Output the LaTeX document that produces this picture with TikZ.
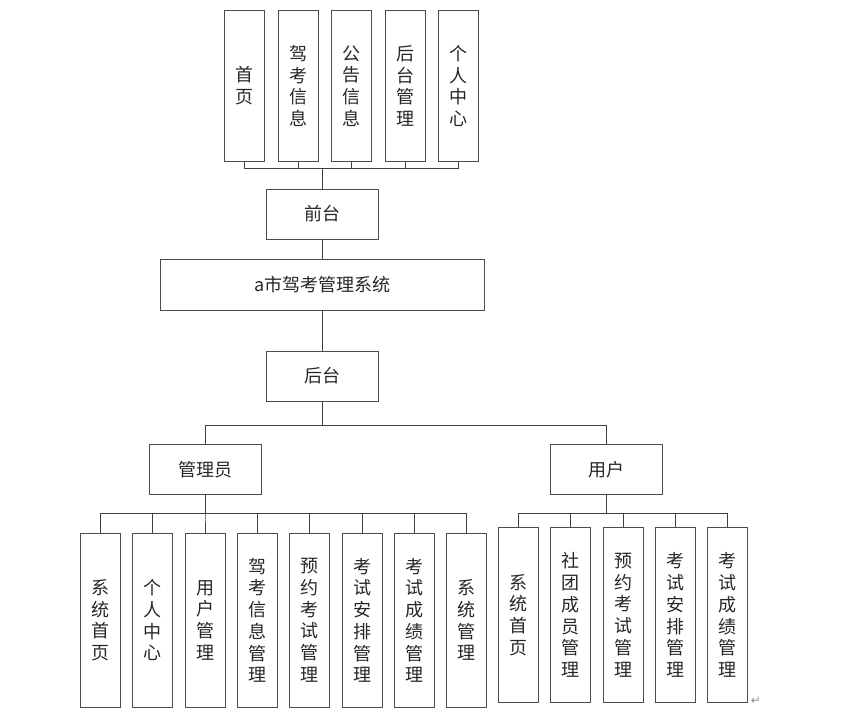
\documentclass[tikz,border=0pt]{standalone}
\usepackage{fontspec}
\newfontfamily\cjk{Noto Sans CJK SC}
\newfontfamily\symfont{DejaVu Sans}
\usepackage{tikz}

\begin{document}
\begin{tikzpicture}[x=0.75pt,y=-0.75pt,
		box/.style={draw=black!70,line width=0.75pt,inner sep=0pt,
			minimum width=84pt,minimum height=37.5pt,text=black!85,
			font=\cjk\fontsize{13.5}{16.3}\selectfont},
		vbox/.style={box,align=center,minimum width=30pt},
		link/.style={draw=black!75,line width=0.75pt}]
		\useasboundingbox (0,0) rectangle (845,717);
		% top row
		\foreach \n/\x/\t in {1/244.3/{首\\页},2/298/{驾\\考\\信\\息},
			3/351.7/{公\\告\\信\\息},4/405.3/{后\\台\\管\\理},5/458.9/{个\\人\\中\\心}}
			\node[vbox,minimum height=112.5pt] (t\n) at (\x,86) {\t};
		\node[box] (qt) at (322.8,214) {前台};
		\node[box,minimum width=243pt,minimum height=38.25pt] (sys) at (322.8,284.7) {a市驾考管理系统};
		\node[box] (ht) at (322.8,376) {后台};
		\node[box] (gly) at (205,469.3) {管理员};
		\node[box] (yh) at (606.8,469.3) {用户};
		% admin row
		\foreach \n/\x/\t in {1/100.7/{系\\统\\首\\页},2/152.5/{个\\人\\中\\心},
			3/205/{用\\户\\管\\理},4/257.3/{驾\\考\\信\\息\\管\\理},
			5/309.7/{预\\约\\考\\试\\管\\理},6/362/{考\\试\\安\\排\\管\\理},
			7/414.3/{考\\试\\成\\绩\\管\\理},8/466.7/{系\\统\\管\\理}}
			\node[vbox,minimum height=130.5pt] (a\n) at (\x,620.3) {\t};
		% user row
		\foreach \n/\x/\t in {1/518.5/{系\\统\\首\\页},2/570.7/{社\\团\\成\\员\\管\\理},
			3/623.3/{预\\约\\考\\试\\管\\理},4/675.5/{考\\试\\安\\排\\管\\理},
			5/727.8/{考\\试\\成\\绩\\管\\理}}
			\node[vbox,minimum height=131pt] (u\n) at (\x,615) {\t};
		\node[text=black!45,font=\symfont\fontsize{9}{10}\selectfont,inner sep=0pt] (ret) at (756,701) {↵};
		% connectors
		\foreach \i in {1,...,5}
			\draw[link] (qt.north) -- ++(0,-19.7) -| (t\i.south);
		\draw[link] (qt.south) -- (sys.north);
		\draw[link] (sys.south) -- (ht.north);
		\draw[link] (ht.south) -- ++(0,24) -| (gly.north);
		\draw[link] (ht.south) -- ++(0,24) -| (yh.north);
		\foreach \i in {1,...,8}
			\draw[link] (gly.south) -- ++(0,18.4) -| (a\i.north);
		\foreach \i in {1,...,5}
			\draw[link] (yh.south) -- ++(0,19) -| (u\i.north);
	\end{tikzpicture}
\end{document}
